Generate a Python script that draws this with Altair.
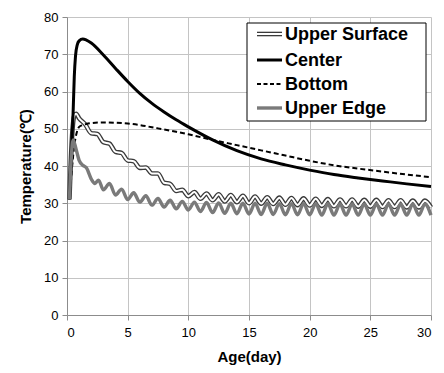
import altair as alt
import pandas as pd

# ---- data ----
smooth_age = [0.2, 0.3, 0.4, 0.5, 0.6, 0.7, 0.85, 1.0, 1.3, 1.6, 2, 3, 4, 5, 6, 7, 8, 9, 10,
              12, 14, 16, 18, 20, 22, 24, 26, 28, 30]
center = [31, 38.6, 46.3, 54.0, 64.0, 69.5, 72.6, 73.6, 74.1, 73.8, 73.0, 69.8, 66.2, 62.7, 59.5,
          56.8, 54.5, 52.4, 50.5, 47.0, 44.1, 41.9, 40.3, 38.9, 37.7, 36.8, 36.0, 35.2, 34.5]
bottom = [31, 35, 39, 42.5, 45.5, 47.5, 49.5, 50.5, 51.0, 51.3, 51.5, 51.7, 51.6, 51.4, 51.0, 50.4,
          49.8, 49.2, 48.5, 47.0, 45.6, 44.2, 42.8, 41.4, 40.2, 39.3, 38.5, 37.7, 37.0]

surf_age = [0.2, 0.4, 0.6, 0.75, 1.0, 1.5, 2.0, 2.5, 3.0, 3.5, 4.0, 4.5, 5.0, 5.5, 6.0, 6.5, 7.0, 7.5,
            8.0, 8.5, 9.0, 9.5, 10.0, 10.5, 11.0, 11.5, 12.0, 12.5, 13.0, 13.5, 14.0, 14.5, 15.0,
            15.5, 16.0, 16.5, 17.0, 17.5, 18.0, 18.5, 19.0, 19.5, 20.0, 20.5, 21.0, 21.5, 22.0,
            22.5, 23.0, 23.5, 24.0, 24.5, 25.0, 25.5, 26.0, 26.5, 27.0, 27.5, 28.0, 28.5, 29.0,
            29.5, 30.0]
upper_surface = [31.0, 47.0, 53.5, 54.0, 52.8, 51.2, 48.8, 48.6, 46.4, 46.0, 43.8, 43.5, 41.5, 41.3,
                 39.5, 39.6, 38.0, 38.0, 35.5, 35.2, 33.3, 33.6, 31.9, 33.0, 31.2, 32.6, 30.8, 32.4,
                 30.5, 32.2, 30.3, 32.0, 30.0, 31.8, 29.9, 31.6, 29.8, 31.5, 29.6, 31.4, 29.5, 31.3,
                 29.4, 31.2, 29.3, 31.1, 29.2, 31.0, 29.2, 31.0, 29.1, 30.9, 29.1, 30.9, 29.0, 30.8,
                 29.0, 30.8, 28.9, 30.7, 28.9, 30.7, 28.9]

edge_age = [0.2, 0.35, 0.5, 0.75, 1.0, 1.3, 1.6, 2.0, 2.3, 2.6, 3.0, 3.5, 4.0, 4.5, 5.0, 5.5, 6.0, 6.5,
            7.0, 7.5, 8.0, 8.5, 9.0, 9.5, 10.0, 10.5, 11.0, 11.5, 12.0, 12.5, 13.0, 13.5, 14.0, 14.5,
            15.0, 15.5, 16.0, 16.5, 17.0, 17.5, 18.0, 18.5, 19.0, 19.5, 20.0, 20.5, 21.0, 21.5, 22.0,
            22.5, 23.0, 23.5, 24.0, 24.5, 25.0, 25.5, 26.0, 26.5, 27.0, 27.5, 28.0, 28.5, 29.0, 29.5,
            30.0]
upper_edge = [31.0, 42.0, 47.0, 44.5, 41.5, 40.2, 39.5, 36.5, 35.3, 36.2, 33.6, 35.3, 32.2, 33.8,
              31.0, 32.8, 30.3, 32.0, 29.5, 31.3, 29.0, 30.8, 28.5, 30.5, 28.2, 30.3, 27.8, 30.2,
              27.5, 30.1, 27.3, 30.0, 27.2, 30.0, 27.1, 30.0, 27.0, 30.0, 27.0, 29.9, 26.9, 29.9,
              26.9, 29.9, 26.9, 29.9, 26.8, 29.9, 26.8, 29.8, 26.8, 29.8, 26.8, 29.8, 26.8, 29.8,
              26.8, 29.8, 26.8, 29.8, 26.8, 29.8, 26.8, 29.8, 26.8]

series_names = ["Upper Surface", "Center", "Bottom", "Upper Edge"]
x_ticks = [0, 5, 10, 15, 20, 25, 30]
y_ticks = [0, 10, 20, 30, 40, 50, 60, 70, 80]

frames = [
    pd.DataFrame({"age": surf_age, "temp": upper_surface, "series": series_names[0]}),
    pd.DataFrame({"age": smooth_age, "temp": center, "series": series_names[1]}),
    pd.DataFrame({"age": smooth_age, "temp": bottom, "series": series_names[2]}),
    pd.DataFrame({"age": edge_age, "temp": upper_edge, "series": series_names[3]}),
]
df = pd.concat(frames, ignore_index=True)

FONT = "Liberation Sans"

x_enc = alt.X("age:Q", scale=alt.Scale(domain=[0, 30], nice=False),
              axis=alt.Axis(values=x_ticks, title="Age(day)", grid=True, gridColor="#c4c4c4",
                            domainColor="#8c8c8c", tickColor="#8c8c8c", tickSize=5,
                            labelFont=FONT, labelFontSize=13, labelColor="#000", labelPadding=6,
                            titleFont=FONT, titleFontSize=15, titleFontWeight="bold",
                            titleColor="#000", titlePadding=10))
y_enc = alt.Y("temp:Q", scale=alt.Scale(domain=[0, 80], nice=False),
              axis=alt.Axis(values=y_ticks, title="Temperature(℃)", grid=True, gridColor="#c4c4c4",
                            domainColor="#8c8c8c", tickColor="#8c8c8c", tickSize=5,
                            labelFont=FONT, labelFontSize=13, labelColor="#000", labelPadding=4,
                            titleFont=FONT, titleFontSize=15, titleFontWeight="bold",
                            titleColor="#000", titlePadding=10))

base = alt.Chart(df).encode(x=x_enc, y=y_enc, order="age:Q")


def sel(name):
    return alt.datum.series == name


surf_outer = base.transform_filter(sel("Upper Surface")).mark_line(
    color="#3a3a3a", strokeWidth=4.6, interpolate="monotone")
surf_inner = base.transform_filter(sel("Upper Surface")).mark_line(
    color="#ffffff", strokeWidth=2.0, interpolate="monotone")
center_l = base.transform_filter(sel("Center")).mark_line(
    color="#000000", strokeWidth=3, interpolate="monotone")
bottom_l = base.transform_filter(sel("Bottom")).mark_line(
    color="#000000", strokeWidth=2.0, strokeDash=[5, 3], interpolate="monotone")
edge_l = base.transform_filter(sel("Upper Edge")).mark_line(
    color="#7a7a7a", strokeWidth=3.4, interpolate="monotone")

# ---- legend (drawn manually to show the double line) ----
one = alt.Data(values=[{"k": 1}])
leg_box = alt.Chart(one).mark_rect(fill="white", stroke="#000", strokeWidth=1).encode(
    x=alt.value(180), x2=alt.value(359), y=alt.value(6), y2=alt.value(104))

leg_rows = [6 + 11, 6 + 37, 6 + 61, 6 + 85]
leg_layers = [leg_box]
sym_styles = [
    [dict(color="#3a3a3a", strokeWidth=4.6), dict(color="#ffffff", strokeWidth=2.0)],
    [dict(color="#000000", strokeWidth=3)],
    [dict(color="#000000", strokeWidth=1.8, strokeDash=[4, 2.5])],
    [dict(color="#7a7a7a", strokeWidth=3.4)],
]
for name, yy, styles in zip(series_names, leg_rows, sym_styles):
    for st in styles:
        leg_layers.append(alt.Chart(one).mark_rule(**st).encode(
            x=alt.value(190), x2=alt.value(215), y=alt.value(yy)))
    leg_layers.append(alt.Chart(alt.Data(values=[{"name": name}])).mark_text(
        align="left", baseline="middle", font=FONT, fontSize=18, fontWeight="bold",
        color="#000").encode(x=alt.value(218), y=alt.value(yy + 1), text="name:N"))

chart = alt.layer(surf_outer, surf_inner, center_l, bottom_l, edge_l, *leg_layers).properties(
    width=364, height=298,
    autosize=alt.AutoSizeParams(type="none"),
    padding={"left": 67, "top": 17, "right": 13, "bottom": 58},
).configure_view(stroke=None)

chart.save("out.html", embed_options={"renderer": "svg", "actions": False})
